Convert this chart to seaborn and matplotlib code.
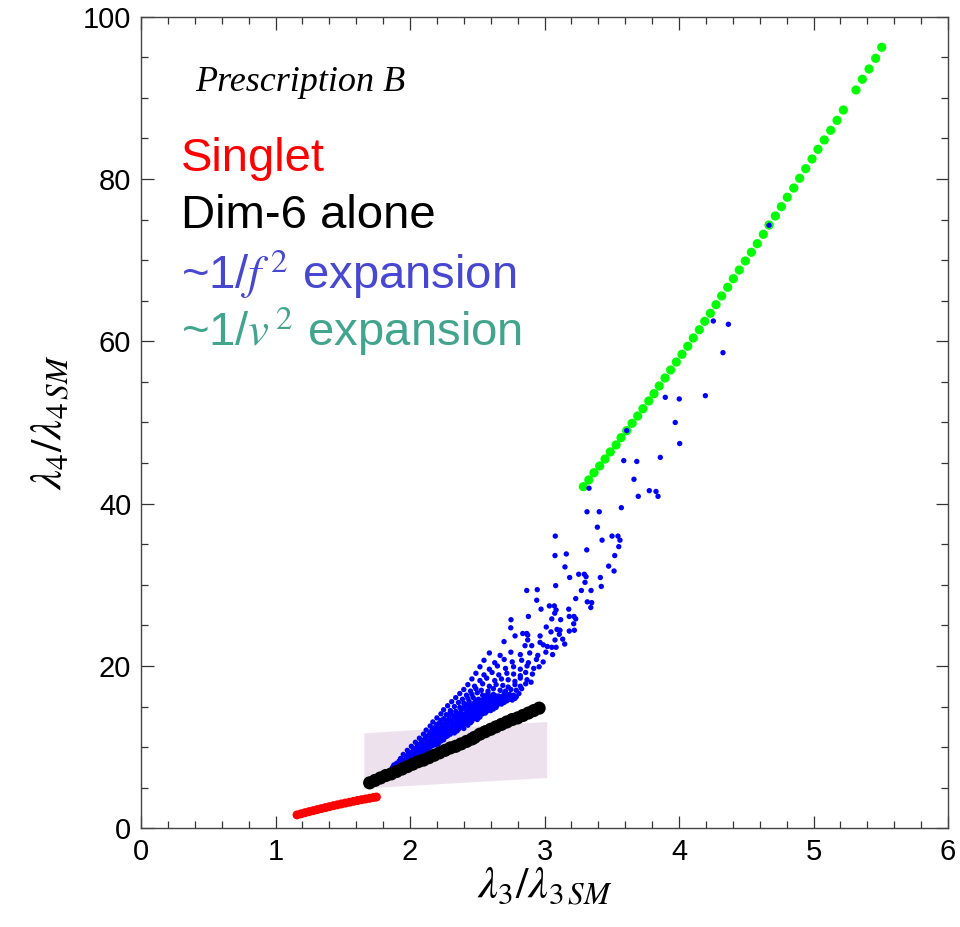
import matplotlib
matplotlib.use("Agg")
import matplotlib.pyplot as plt
import seaborn as sns
import pandas as pd
from matplotlib.ticker import MultipleLocator

# ---------------- data ----------------
# shaded region (lambda3, lambda4 corners)
band_x = [1.66, 1.66, 3.02, 3.02]
band_y = [4.9, 11.7, 13.1, 6.2]

# Singlet (red)
red_x = [1.16, 1.19, 1.22, 1.25, 1.28, 1.31, 1.34, 1.37, 1.40, 1.43, 1.46,
         1.49, 1.52, 1.55, 1.58, 1.61, 1.64, 1.67, 1.70, 1.73, 1.75]
red_y = [1.65, 1.78, 1.92, 2.05, 2.17, 2.30, 2.42, 2.54, 2.66, 2.78, 2.89,
         3.00, 3.11, 3.21, 3.32, 3.42, 3.52, 3.61, 3.70, 3.80, 3.85]

# Dim-6 alone (black)
black_x = [1.70, 1.74, 1.78, 1.82, 1.86, 1.90, 1.94, 1.98, 2.02, 2.06, 2.10,
           2.14, 2.18, 2.22, 2.26, 2.30, 2.34, 2.38, 2.42, 2.46, 2.48, 2.52,
           2.56, 2.60, 2.64, 2.68, 2.72, 2.76, 2.80, 2.84, 2.88, 2.92, 2.96]
black_y = [5.6, 5.9, 6.2, 6.5, 6.7, 7.0, 7.3, 7.6, 7.9, 8.2, 8.4,
           8.7, 9.0, 9.3, 9.6, 9.9, 10.1, 10.4, 10.7, 11.0, 11.2, 11.6,
           11.9, 12.2, 12.5, 12.8, 13.1, 13.4, 13.6, 13.9, 14.2, 14.5, 14.8]

# ~1/v^2 expansion (green)
green_x = [5.507, 5.462, 5.413, 5.363, 5.316, 5.222, 5.175, 5.128, 5.080, 5.033,
           4.989, 4.942, 4.897, 4.853, 4.805, 4.761, 4.716, 4.669, 4.627, 4.582,
           4.538, 4.493, 4.448, 4.404, 4.362, 4.317, 4.275, 4.233, 4.191, 4.151,
           4.106, 4.065, 4.022, 3.980, 3.938, 3.896, 3.853, 3.814, 3.775, 3.732,
           3.693, 3.651, 3.611, 3.569, 3.532, 3.489, 3.450, 3.410, 3.368, 3.329,
           3.289]
green_y = [96.23, 94.87, 93.56, 92.29, 90.97, 88.50, 87.23, 86.00, 84.81, 83.66,
           82.47, 81.27, 80.09, 78.89, 77.75, 76.59, 75.44, 74.33, 73.19, 72.03,
           70.97, 69.90, 68.79, 67.72, 66.66, 65.59, 64.52, 63.46, 62.47, 61.43,
           60.41, 59.39, 58.40, 57.45, 56.47, 55.48, 54.50, 53.55, 52.65, 51.70,
           50.80, 49.90, 48.99, 48.13, 47.23, 46.37, 45.50, 44.64, 43.81, 42.92,
           42.09]

# ~1/f^2 expansion (blue): dense cone
blue_dense_x = [
    1.84, 1.86,
    1.87, 1.89, 1.91,
    1.90, 1.93, 1.95,
    1.93, 1.96, 1.99, 2.01,
    1.95, 1.99, 2.02, 2.05,
    1.98, 2.02, 2.05, 2.08, 2.10,
    2.01, 2.05, 2.09, 2.12, 2.15,
    2.04, 2.08, 2.12, 2.15, 2.18, 2.21,
    2.07, 2.11, 2.15, 2.18, 2.22, 2.25,
    2.10, 2.14, 2.17, 2.21, 2.25, 2.28, 2.30,
    2.12, 2.16, 2.20, 2.24, 2.28, 2.31, 2.35,
    2.15, 2.19, 2.23, 2.27, 2.31, 2.34, 2.38, 2.40,
    2.17, 2.22, 2.26, 2.30, 2.34, 2.37, 2.41, 2.45,
    2.20, 2.25, 2.29, 2.33, 2.37, 2.40, 2.44, 2.47, 2.50,
    2.23, 2.27, 2.32, 2.36, 2.40, 2.43, 2.47, 2.50, 2.54,
    2.25, 2.30, 2.34, 2.38, 2.43, 2.46, 2.50, 2.53, 2.57, 2.60,
    2.28, 2.33, 2.37, 2.41, 2.45, 2.49, 2.53, 2.56, 2.60, 2.64,
    2.31, 2.36, 2.40, 2.44, 2.48, 2.52, 2.56, 2.59, 2.63, 2.67, 2.70,
    2.34, 2.39, 2.43, 2.47, 2.51, 2.55, 2.59, 2.63, 2.66, 2.70, 2.74, 2.78,
    2.37, 2.42, 2.46, 2.50, 2.54, 2.58, 2.62, 2.66, 2.70, 2.74, 2.77, 2.81,
    2.40, 2.45, 2.49, 2.53, 2.58, 2.62, 2.67, 2.71, 2.75, 2.79, 2.83,
    2.43, 2.48, 2.54, 2.59, 2.64, 2.69, 2.73, 2.78, 2.82, 2.86,
    2.46, 2.52, 2.57, 2.63, 2.68, 2.73, 2.78, 2.82, 2.87, 2.90,
    2.49, 2.55, 2.61, 2.66, 2.72, 2.77, 2.82, 2.86, 2.91,
    2.52, 2.59, 2.65, 2.71, 2.77, 2.82, 2.87, 2.92, 2.96,
    2.55, 2.63, 2.70, 2.76, 2.83, 2.88, 2.94, 2.99,
    2.59, 2.67, 2.75, 2.82, 2.89, 2.95, 3.01, 3.06,
]
blue_dense_y = [
    7.0, 7.1,
    7.5, 7.4, 7.6,
    8.0, 7.9, 8.1,
    8.6, 8.4, 8.5, 8.6,
    9.1, 9.0, 8.9, 9.1,
    9.6, 9.5, 9.4, 9.6, 9.5,
    10.1, 10.0, 9.9, 10.1, 10.0,
    10.6, 10.5, 10.4, 10.6, 10.5, 10.4,
    11.1, 11.0, 10.9, 11.1, 11.0, 10.9,
    11.6, 11.5, 11.4, 11.6, 11.5, 11.4, 11.6,
    12.1, 12.0, 12.1, 11.9, 12.0, 12.1, 12.0,
    12.6, 12.5, 12.4, 12.6, 12.5, 12.4, 12.5, 12.3,
    13.1, 13.0, 12.9, 13.1, 13.0, 13.1, 12.9, 13.0,
    13.6, 13.5, 13.4, 13.6, 13.5, 13.4, 13.6, 13.5, 13.4,
    14.1, 14.0, 13.9, 14.1, 14.0, 14.1, 13.9, 14.0, 14.1,
    14.6, 14.5, 14.4, 14.6, 14.5, 14.4, 14.6, 14.5, 14.4, 14.5,
    15.1, 15.0, 14.9, 15.1, 15.0, 15.1, 14.9, 15.0, 15.1, 14.9,
    15.6, 15.5, 15.4, 15.6, 15.5, 15.4, 15.6, 15.5, 15.4, 15.6, 15.5,
    16.1, 15.9, 16.0, 16.1, 15.9, 16.0, 16.1, 15.9, 16.0, 16.1, 15.9, 16.0,
    16.6, 16.4, 16.5, 16.7, 16.4, 16.6, 16.5, 16.3, 16.6, 16.5, 16.4, 16.6,
    17.1, 16.9, 17.2, 17.0, 16.9, 17.2, 17.0, 16.9, 17.1, 17.0, 17.2,
    17.7, 17.5, 17.8, 17.5, 17.7, 17.6, 17.4, 17.7, 17.5, 17.8,
    18.4, 18.2, 18.5, 18.2, 18.4, 18.3, 18.1, 18.5, 18.3, 18.0,
    19.1, 18.9, 19.2, 18.9, 19.1, 19.0, 18.8, 19.2, 19.0,
    19.9, 19.6, 20.0, 19.7, 19.9, 19.6, 20.0, 19.7, 19.9,
    20.7, 20.4, 20.8, 20.5, 20.7, 20.4, 20.8, 20.5,
    21.6, 21.3, 21.7, 21.4, 21.6, 21.3, 21.7, 21.4,
]

# ~1/f^2 expansion (blue): extra points in the solid band near the lower edge
blue_band_x = [
    1.88,
    1.92, 1.95,
    1.97, 2.00, 2.03,
    1.99, 2.03, 2.06, 2.08,
    2.03, 2.07, 2.10, 2.13,
    2.06, 2.10, 2.14, 2.17, 2.19,
    2.09, 2.13, 2.17, 2.20, 2.23,
    2.12, 2.16, 2.20, 2.23, 2.27,
    2.15, 2.18, 2.22, 2.26, 2.30, 2.33,
    2.17, 2.21, 2.26, 2.29, 2.33, 2.36,
    2.20, 2.24, 2.28, 2.32, 2.36, 2.39, 2.43,
    2.23, 2.27, 2.31, 2.35, 2.39, 2.42, 2.46,
    2.29, 2.34, 2.38, 2.42, 2.45, 2.49, 2.52,
    2.30, 2.38, 2.42, 2.45, 2.49, 2.52, 2.56,
    2.40, 2.44, 2.48, 2.51, 2.55, 2.58, 2.62,
    2.43, 2.47, 2.51, 2.54, 2.58, 2.62, 2.65, 2.68,
    2.50, 2.54, 2.58, 2.61, 2.65, 2.69, 2.72, 2.76,
    2.56, 2.61, 2.64, 2.68, 2.72, 2.76, 2.79,
]
blue_band_y = [
    7.8,
    8.3, 8.25,
    8.8, 8.75, 8.8,
    9.3, 9.25, 9.3, 9.2,
    9.8, 9.75, 9.8, 9.7,
    10.3, 10.25, 10.3, 10.2, 10.3,
    10.8, 10.75, 10.8, 10.7, 10.75,
    11.3, 11.25, 11.3, 11.2, 11.3,
    11.8, 11.75, 11.8, 11.7, 11.8, 11.75,
    12.3, 12.25, 12.3, 12.2, 12.3, 12.2,
    12.8, 12.75, 12.8, 12.7, 12.8, 12.75, 12.7,
    13.3, 13.25, 13.3, 13.2, 13.3, 13.25, 13.2,
    13.8, 13.75, 13.8, 13.7, 13.8, 13.75, 13.7,
    14.3, 14.25, 14.3, 14.2, 14.3, 14.25, 14.2,
    14.8, 14.75, 14.8, 14.7, 14.8, 14.75, 14.7,
    15.3, 15.25, 15.3, 15.2, 15.3, 15.25, 15.2, 15.3,
    15.8, 15.75, 15.8, 15.7, 15.8, 15.75, 15.7, 15.8,
    16.3, 16.25, 16.3, 16.2, 16.3, 16.25, 16.2,
]

# ~1/f^2 expansion (blue): scattered points
blue_sparse_x = [
    4.255, 4.367, 4.327, 3.898, 4.002, 4.196, 3.972, 4.005, 3.611, 4.669,
    3.861, 3.589, 3.686, 3.665, 3.331, 3.697, 3.779, 3.829, 3.844, 3.316,
    3.407, 3.571, 3.393, 3.080, 3.502, 3.546, 3.561, 3.428, 3.552, 3.314,
    3.078, 3.162, 3.522, 3.152, 3.477, 3.517, 3.187, 3.254, 3.296, 3.309,
    3.415, 3.301, 3.083, 3.422, 3.274, 3.346, 3.232,
    2.868, 2.946, 2.942, 3.318, 3.351, 3.344, 3.036, 3.073, 3.086, 2.974,
    3.180, 3.076, 3.184, 3.219, 3.232, 2.880, 2.751, 3.054, 3.120, 3.217,
    2.749, 3.013, 3.093, 3.115, 3.184, 3.222, 3.048, 2.781, 2.868, 2.875,
    2.838, 2.967, 3.110, 3.078, 3.135, 3.150, 2.699, 2.875, 2.967, 2.855,
    2.905, 2.991, 3.021, 3.054, 3.086,
]
blue_sparse_y = [
    62.5, 62.1, 58.6, 53.1, 52.9, 53.3, 50.0, 47.4, 49.0, 74.3,
    45.7, 45.3, 45.2, 43.0, 41.9, 40.9, 41.6, 41.5, 40.9, 39.0,
    39.0, 39.5, 37.1, 36.0, 36.0, 36.0, 35.5, 35.5, 34.7, 34.3,
    33.6, 33.8, 33.6, 32.2, 32.3, 31.7, 30.9, 31.3, 31.3, 31.0,
    30.9, 30.3, 29.9, 29.8, 29.3, 29.3, 28.3,
    29.3, 29.4, 28.1, 27.9, 27.8, 27.2, 27.4, 27.4, 26.9, 27.0,
    27.0, 26.5, 26.1, 26.1, 25.8, 26.1, 25.7, 25.8, 25.7, 25.2,
    24.7, 24.8, 24.5, 24.4, 24.3, 24.4, 24.2, 23.7, 24.0, 23.8,
    24.0, 23.7, 23.9, 23.2, 23.3, 22.7, 23.0, 23.2, 22.9, 22.5,
    22.5, 22.6, 22.4, 22.3, 22.3,
]

x_ticks = [0, 1, 2, 3, 4, 5, 6]
y_ticks = [0, 20, 40, 60, 80, 100]

labels = ["Singlet", "Dim-6 alone", r"~1/$f^{\,2}$ expansion", r"~1/$v^{\,2}$ expansion"]
label_colors = ["#ff0000", "#000000", "#4747d1", "#41a58e"]
label_y = [82.5, 75.5, 68.3, 61.3]

# ---------------- plotting ----------------
sns.set_style("ticks")
plt.rcParams["font.family"] = ["Liberation Sans", "DejaVu Sans"]
plt.rcParams["mathtext.fontset"] = "stix"
plt.rcParams["text.color"] = "black"
plt.rcParams["axes.labelcolor"] = "black"

fig = plt.figure(figsize=(9.6, 9.27), dpi=100)
ax = fig.add_axes([0.1469, 0.1065, 0.8406, 0.8755])

ax.fill(band_x, band_y, color="#ede1ed", lw=0, zorder=1)

sns.scatterplot(x=green_x, y=green_y, color="#00ff00", s=44, edgecolor="none",
                linewidth=0, ax=ax, zorder=2)
blue_df = pd.DataFrame({"x": blue_dense_x + blue_band_x + blue_sparse_x,
                        "y": blue_dense_y + blue_band_y + blue_sparse_y})
sns.scatterplot(data=blue_df, x="x", y="y", color="#0000ff", s=15,
                edgecolor="none", linewidth=0, ax=ax, zorder=3)
sns.scatterplot(x=black_x, y=black_y, color="black", s=90, edgecolor="none",
                linewidth=0, ax=ax, zorder=4)
sns.scatterplot(x=red_x, y=red_y, color="#ff0000", s=42, edgecolor="none",
                linewidth=0, ax=ax, zorder=4)

ax.set_xlim(0, 6)
ax.set_ylim(0, 100)
ax.set_xticks(x_ticks)
ax.set_yticks(y_ticks)
ax.xaxis.set_minor_locator(MultipleLocator(0.2))
ax.yaxis.set_minor_locator(MultipleLocator(5))
ax.tick_params(which="both", direction="in", top=True, right=True,
               colors="#333333", labelcolor="black", width=0.9)
ax.tick_params(which="major", length=9, labelsize=21, pad=7)
ax.tick_params(which="minor", length=5)
for sp in ax.spines.values():
    sp.set_color("#444444")
    sp.set_linewidth(1.0)

ax.set_xlabel(r"$\lambda_3/\lambda_{3\,SM}$", fontsize=32, labelpad=0,
              color="black")
ax.set_ylabel(r"$\lambda_4/\lambda_{4\,SM}$", fontsize=32, labelpad=8,
              color="black")

ax.text(0.40, 91.9, "Prescription B", fontsize=26, style="italic",
        family=["Liberation Serif"], va="center", ha="left", color="black")
for txt, col, yy in zip(labels, label_colors, label_y):
    ax.text(0.30, yy, txt, fontsize=34, color=col, va="center", ha="left")

fig.savefig("out.png", dpi=100)
